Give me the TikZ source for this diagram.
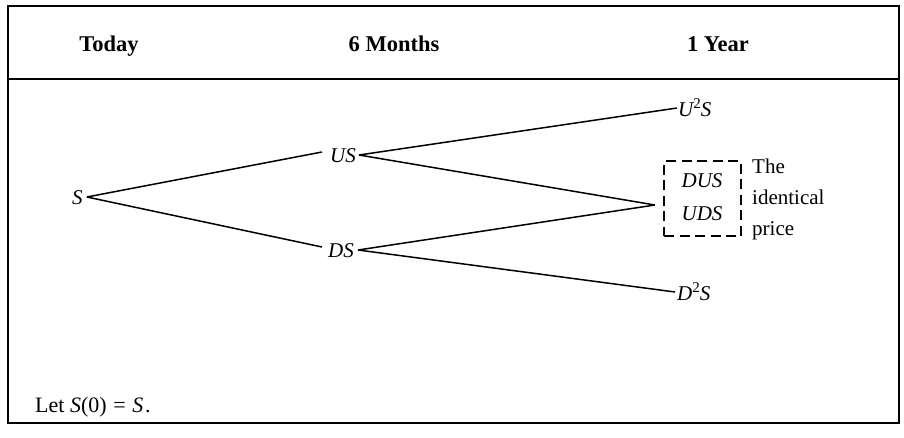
\documentclass[tikz,border=0pt]{standalone}
\usepackage{fontspec}
\setmainfont{Liberation Serif}
\newcommand{\sqr}{\raisebox{0.38em}{\upshape\fontsize{15}{15}\selectfont 2}}
\begin{document}
\begin{tikzpicture}[x=1pt,y=-1pt,
  hdr/.style={font=\fontsize{22.5}{26}\selectfont\bfseries, inner sep=0pt, anchor=base},
  lbl/.style={font=\fontsize{21}{24}\selectfont\itshape, inner sep=0pt, anchor=base west},
  txt/.style={font=\fontsize{21}{24}\selectfont, inner sep=0pt, anchor=base west},
  edge/.style={line width=1.5pt},
  frame/.style={line width=1.6pt}]
\useasboundingbox (0,0) rectangle (904,437);
\draw[frame] (8,6) rectangle (899,423);
\draw[frame] (8,79) -- (899,79);
\node[hdr] (today) at (109,51) {Today};
\node[hdr] (six) at (394,51) {6 Months};
\node[hdr] (year) at (718,51) {1 Year};
% tree nodes
\node[lbl] (s) at (72,204) {S};
\node[lbl] (us) at (330,162) {US};
\node[lbl] (ds) at (328,257) {DS};
\node[lbl] (uus) at (678,116) {U\sqr S};
\node[lbl] (dds) at (677,300) {D\sqr S};
\node[draw, line width=2.2pt, dash pattern=on 10pt off 5.5pt, minimum width=77pt, minimum height=75pt, inner sep=0pt] (box) at (702.5,198.5) {};
\node[lbl, anchor=base] (dus) at (702,187) {DUS};
\node[lbl, anchor=base] (uds) at (702,220) {UDS};
\node[txt] (note1) at (752,173) {The};
\node[txt] (note2) at (752,204) {identical};
\node[txt] (note3) at (752,235) {price};
\node[txt, font=\fontsize{22}{24}\selectfont] (let) at (35,412) {Let \textit{S}(0)\hspace{0.3em}=\hspace{0.3em}\textit{S}\hspace{0.08em}.};
% connectors
\coordinate (s0) at ([xshift=4pt,yshift=7pt]s.base east);
\coordinate (us0) at ([xshift=-8pt,yshift=10pt]us.base west);
\coordinate (us1) at ([xshift=3pt,yshift=7pt]us.base east);
\coordinate (ds0) at ([xshift=-6pt,yshift=10pt]ds.base west);
\coordinate (ds1) at ([xshift=4pt,yshift=7pt]ds.base east);
\coordinate (uus0) at ([xshift=-1pt,yshift=8pt]uus.base west);
\coordinate (dds0) at ([xshift=-2pt,yshift=8pt]dds.base west);
\coordinate (m) at ([xshift=-8pt,yshift=-6.5pt]box.west);
\draw[edge] (s0) -- (us0);
\draw[edge] (s0) -- (ds0);
\draw[edge] (us1) -- (uus0);
\draw[edge] (us1) -- (m);
\draw[edge] (ds1) -- (m);
\draw[edge] (ds1) -- (dds0);
\end{tikzpicture}
\end{document}
